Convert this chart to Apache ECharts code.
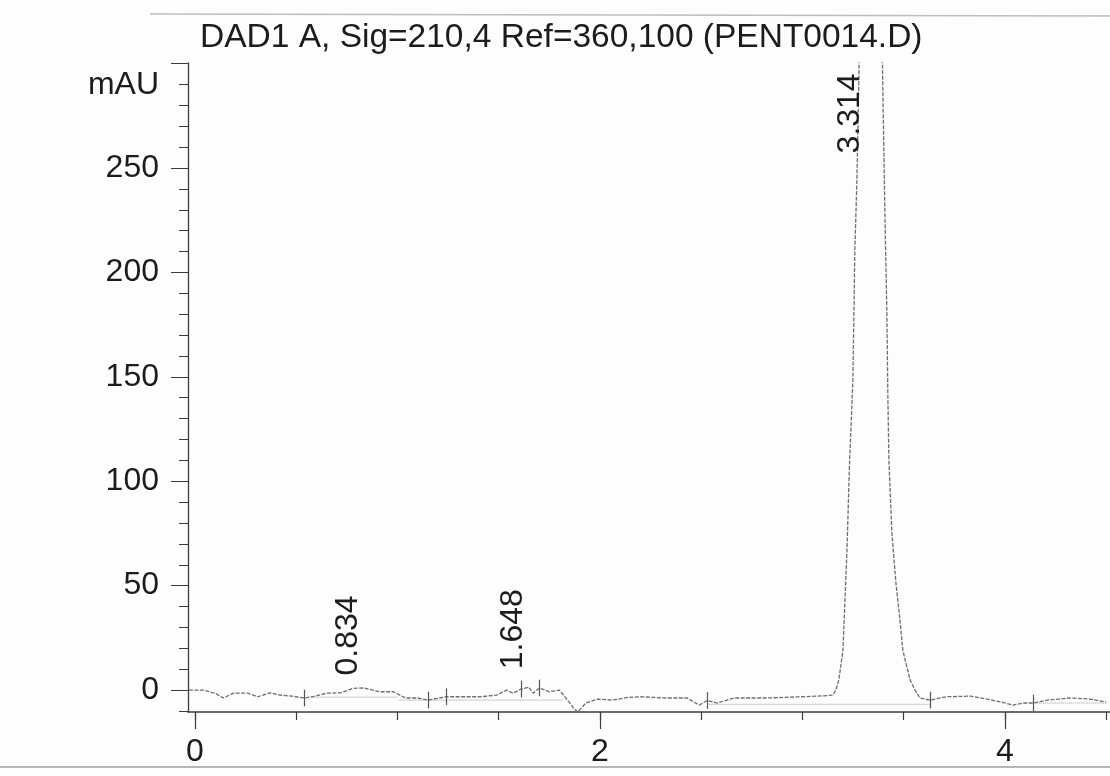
<!DOCTYPE html>
<html>
<head>
<meta charset="utf-8">
<script src="https://cdn.jsdelivr.net/npm/echarts@6/dist/echarts.min.js"></script>
<style>
html,body{margin:0;padding:0;background:#fdfdfd;}
#chart{width:1110px;height:776px;}
</style>
</head>
<body>
<div id="chart"></div>
<script>
// ---- data ----
const titleText = 'DAD1 A, Sig=210,4 Ref=360,100 (PENT0014.D)';
const yUnit = 'mAU';
const times = [-0.03, 0.04, 0.10, 0.14, 0.19, 0.26, 0.31, 0.37, 0.42, 0.48, 0.54, 0.58, 0.65, 0.72, 0.78, 0.834, 0.91, 0.98,
  1.04, 1.10, 1.15, 1.24, 1.32, 1.41, 1.49, 1.54, 1.57, 1.61, 1.648, 1.67, 1.70, 1.75, 1.80, 1.84, 1.87, 1.89, 1.93, 1.99,
  2.06, 2.14, 2.20, 2.33, 2.43, 2.49, 2.53, 2.58, 2.66, 2.82, 2.99, 3.10, 3.15,
  3.165, 3.18, 3.20, 3.21, 3.22, 3.232, 3.249, 3.259, 3.269, 3.28, 3.333, 3.395, 3.407, 3.417, 3.422, 3.427, 3.442, 3.462, 3.48, 3.496, 3.531, 3.556,
  3.58, 3.63, 3.71, 3.83, 3.91, 3.98, 4.04, 4.09, 4.14, 4.21, 4.32, 4.42, 4.50];
const mAU = [0, 0, -1.5, -3.8, -1.5, -1.5, -3.2, -1.3, -2.4, -2.9, -3.8, -3.2, -1.5, -1.3, 0.8, 1.0, -0.8, -0.8,
  -3.8, -3.8, -4.8, -3.2, -3.2, -3.2, -2.4, 0, -1.5, 0.5, 1.4, -1.5, 1.0, -0.8, 0, -4.8, -8.6, -10.5, -6.2, -4.3,
  -4.8, -3.5, -3.2, -3.8, -3.8, -7.2, -5.0, -6.2, -3.8, -3.8, -3.2, -2.8, -2.4,
  0, 5, 19, 43, 67, 107, 148, 211, 244, 300, 380, 300, 230, 180, 140, 110, 75, 51, 35, 19, 5, 0,
  -3.8, -4.8, -3.2, -2.9, -4.3, -5.7, -7.2, -6.2, -6.2, -4.8, -3.8, -4.3, -5.7];
// integration baselines [t0, v0, t1, v1]
const baselineSegments = [[0.58, -3.4, 1.00, -3.4], [1.01, -4.8, 1.82, -4.8], [2.53, -6.8, 3.63, -6.8], [4.14, -6.2, 4.50, -6.2]];
// integration event markers (times)
const markerTimes = [0.54, 1.15, 1.24, 1.61, 1.70, 2.53, 3.63, 4.14];
const peakTimes = [0.834, 1.648, 3.314];
const peakLabels = ['0.834', '1.648', '3.314'];
const peakLabelBase = [7, 10, 257];
const xTickValues = [0, 0.5, 1, 1.5, 2, 2.5, 3, 3.5, 4, 4.5];
const xLabelValues = [0, 2, 4];
const yMinorTicks = [-10, 0, 10, 20, 30, 40, 50, 60, 70, 80, 90, 100, 110, 120, 130, 140, 150, 160, 170, 180, 190, 200, 210, 220, 230, 240, 250, 260, 270, 280, 290, 300];
const yMajorTicks = [0, 50, 100, 150, 200, 250, 300];
const yLabelValues = [0, 50, 100, 150, 200, 250];

// ---- build ----
const signal = times.map((t, i) => [t, mAU[i]]);
const baseData = [];
baselineSegments.forEach(s => { baseData.push([s[0], s[1]], [s[2], s[3]], [null, null]); });
function levelAt(t) {
  let best = 0;
  times.forEach((tt, i) => { if (Math.abs(tt - t) < Math.abs(times[best] - t)) best = i; });
  return mAU[best];
}
const markerLines = markerTimes.map(t => {
  const v = levelAt(t);
  return [{coord: [t, v - 4]}, {coord: [t, v + 4]}];
});
const peakPoints = peakTimes.map((t, i) => ({coord: [t, peakLabelBase[i]], value: peakLabels[i]}));

const FONT = '"Liberation Sans", Arial, sans-serif';
const XMIN = -0.0346, XMAX = 4.519, YMIN = -10.5, YMAX = 300.3;
const axisColor = '#3c3c3c';
const textColor = '#1c1c1c';

const chart = echarts.init(document.getElementById('chart'), null, {renderer: 'canvas'});
chart.setOption({
  backgroundColor: '#fdfdfd',
  animation: false,
  title: {
    text: titleText, left: 195, top: 16,
    textStyle: {fontFamily: FONT, fontSize: 33.5, fontWeight: 'normal', color: textColor}
  },
  grid: {left: 188, top: 63, right: 0, bottom: 64, containLabel: false},
  xAxis: [
    {
      type: 'value', min: XMIN, max: XMAX, position: 'bottom',
      axisLine: {show: true, onZero: false, lineStyle: {color: axisColor, width: 1.5}},
      axisTick: {show: true, customValues: xTickValues, length: 8, lineStyle: {color: axisColor, width: 1.2}},
      axisLabel: {show: false},
      splitLine: {show: false}
    },
    {
      type: 'value', min: XMIN, max: XMAX, position: 'bottom', offset: 0,
      axisLine: {show: false, onZero: false},
      axisTick: {show: true, customValues: xLabelValues, length: 17, lineStyle: {color: axisColor, width: 1.2}},
      axisLabel: {show: true, customValues: xLabelValues, margin: 24, fontFamily: FONT, fontSize: 32, color: textColor,
        formatter: v => String(v)},
      splitLine: {show: false}
    }
  ],
  yAxis: [
    {
      type: 'value', min: YMIN, max: YMAX, position: 'left',
      name: yUnit, nameLocation: 'end', nameGap: -22,
      nameTextStyle: {fontFamily: FONT, fontSize: 32, color: textColor, align: 'right', verticalAlign: 'middle', padding: [0, 29, 0, 0]},
      axisLine: {show: true, onZero: false, lineStyle: {color: axisColor, width: 1.3}},
      axisTick: {show: true, customValues: yMinorTicks, length: 9, lineStyle: {color: axisColor, width: 1}},
      axisLabel: {show: false},
      splitLine: {show: false}
    },
    {
      type: 'value', min: YMIN, max: YMAX, position: 'left', offset: 0,
      axisLine: {show: false, onZero: false},
      axisTick: {show: true, customValues: yMajorTicks, length: 17, lineStyle: {color: axisColor, width: 1}},
      axisLabel: {show: true, customValues: yLabelValues, margin: 29, fontFamily: FONT, fontSize: 32, color: textColor,
        formatter: v => String(v)},
      splitLine: {show: false}
    }
  ],
  series: [
    {
      name: 'DAD1 A', type: 'line', xAxisIndex: 0, yAxisIndex: 0,
      data: signal, showSymbol: false, symbol: 'none', clip: true,
      lineStyle: {color: '#6e6e6e', width: 1.3, type: [4, 1.5]},
      markLine: {
        silent: true, symbol: 'none', label: {show: false},
        lineStyle: {color: '#555', width: 1.2, type: 'solid'},
        data: markerLines
      },
      markPoint: {
        symbol: 'circle', symbolSize: 0, silent: true,
        label: {
          show: true, formatter: p => p.value, rotate: 90, position: 'inside',
          align: 'left', verticalAlign: 'bottom', offset: [0, 0],
          fontFamily: FONT, fontSize: 32, color: textColor
        },
        data: peakPoints
      }
    },
    {
      name: 'baseline', type: 'line', xAxisIndex: 0, yAxisIndex: 0,
      data: baseData, showSymbol: false, symbol: 'none', connectNulls: false,
      lineStyle: {color: '#9a9a9a', width: 1, type: 'dotted'}
    }
  ],
  graphic: [
    {type: 'line', shape: {x1: 150, y1: 14, x2: 1110, y2: 16}, style: {stroke: '#bdbdbd', lineWidth: 1.5}, silent: true},
    {type: 'line', shape: {x1: 0, y1: 767, x2: 1110, y2: 767}, style: {stroke: '#9e9e9e', lineWidth: 1.5}, silent: true}
  ]
});
</script>
</body>
</html>
